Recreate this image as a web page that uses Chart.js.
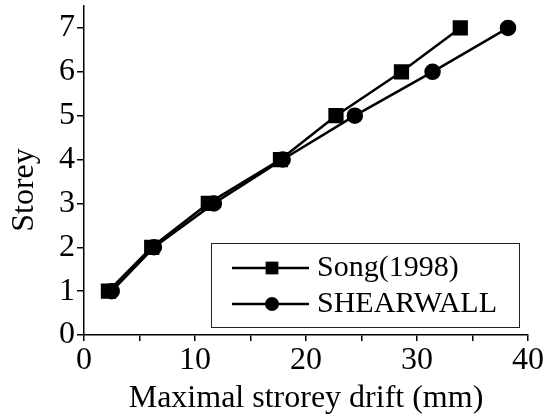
<!DOCTYPE html>
<html>
<head>
<meta charset="utf-8">
<script src="https://cdn.jsdelivr.net/npm/chart.js@4.4.1/dist/chart.umd.min.js"></script>
<style>
  html, body { margin: 0; padding: 0; background: #fff; }
  #wrap { width: 549px; height: 418px; }
</style>
</head>
<body>
<div id="wrap"><canvas id="driftChart" width="549" height="418"></canvas></div>
<script>
// storey drift, measured vs SHEARWALL model
var storeys = [1, 2, 3, 4, 5, 6, 7];
var songDrift = [2.2, 6.1, 11.2, 17.7, 22.7, 28.6, 33.9];
var shearwallDrift = [2.5, 6.3, 11.7, 17.9, 24.4, 31.4, 38.2];
var seriesNames = ['Song(1998)', 'SHEARWALL'];

var serif = "'Liberation Serif', 'Times New Roman', serif";

function toPoints(xs) {
  return xs.map(function (x, i) { return { x: x, y: storeys[i] }; });
}

// legend drawn as a framed box with a line through each marker
var lineLegend = {
  id: 'lineLegend',
  afterDraw: function (chart) {
    var ctx = chart.ctx;
    var box = { x: 211, y: 243, w: 308, h: 84 };
    ctx.save();
    ctx.strokeStyle = '#222';
    ctx.lineWidth = 1;
    ctx.strokeRect(box.x + 0.5, box.y + 0.5, box.w, box.h);
    chart.data.datasets.forEach(function (ds, i) {
      var y = box.y + 25 + i * 36;
      ctx.strokeStyle = '#000';
      ctx.lineWidth = 2.5;
      ctx.beginPath();
      ctx.moveTo(box.x + 21, y);
      ctx.lineTo(box.x + 98, y);
      ctx.stroke();
      Chart.helpers.drawPoint(ctx, {
        pointStyle: ds.pointStyle,
        radius: ds.pointRadius,
        rotation: 0,
        borderWidth: 0
      }, box.x + 61, y);
      ctx.fillStyle = '#000';
      ctx.font = '30px ' + serif;
      ctx.textBaseline = 'middle';
      ctx.fillText(ds.label, box.x + 106, y);
    });
    ctx.restore();
  }
};

// rotated y title, sitting a little below the middle of the axis
var yTitle = {
  id: 'yTitle',
  afterDraw: function (chart) {
    var ctx = chart.ctx;
    ctx.save();
    ctx.translate(25, 190);
    ctx.rotate(-Math.PI / 2);
    ctx.fillStyle = '#000';
    ctx.font = '32px ' + serif;
    ctx.textAlign = 'center';
    ctx.textBaseline = 'middle';
    ctx.fillText('Storey', 0, 0);
    ctx.restore();
  }
};

var ctx = document.getElementById('driftChart').getContext('2d');
var driftChart = new Chart(ctx, {
  type: 'line',
  plugins: [lineLegend, yTitle],
  data: {
    datasets: [{
      label: seriesNames[0],
      data: toPoints(songDrift),
      borderColor: '#000',
      backgroundColor: '#000',
      borderWidth: 2.5,
      pointStyle: 'rect',
      pointRadius: 9,
      pointHoverRadius: 9,
      tension: 0,
      clip: false
    }, {
      label: seriesNames[1],
      data: toPoints(shearwallDrift),
      borderColor: '#000',
      backgroundColor: '#000',
      borderWidth: 2.5,
      pointStyle: 'circle',
      pointRadius: 7,
      pointHoverRadius: 7,
      tension: 0,
      clip: false
    }]
  },
  options: {
    responsive: false,
    animation: false,
    layout: { autoPadding: false, padding: { top: 6, right: 21, left: 0, bottom: 0 } },
    plugins: {
      legend: { display: false },
      tooltip: { enabled: false }
    },
    scales: {
      x: {
        type: 'linear',
        min: 0,
        max: 40,
        border: { color: '#000', width: 1.5 },
        grid: { drawOnChartArea: false, color: '#000', tickLength: 6, lineWidth: 1.5 },
        ticks: {
          stepSize: 5,
          color: '#000',
          padding: 0,
          maxRotation: 0,
          font: { family: serif, size: 32 },
          callback: function (v) { return v % 10 === 0 ? v : ''; }
        },
        title: {
          display: true,
          text: 'Maximal strorey drift (mm)',
          color: '#000',
          padding: { top: 0, bottom: 0 },
          font: { family: serif, size: 32 }
        },
        afterFit: function (scale) { scale.height = 83; }
      },
      y: {
        min: 0,
        max: 7.5,
        border: { color: '#000', width: 1.5 },
        grid: { drawOnChartArea: false, color: '#000', tickLength: 7, lineWidth: 1.5 },
        ticks: {
          stepSize: 0.5,
          color: '#000',
          padding: 2,
          font: { family: serif, size: 32 },
          callback: function (v) { return Number.isInteger(v) ? v : ''; }
        },
        afterFit: function (scale) {
          scale.width = 84;
          scale.paddingTop = 0;
          scale.paddingBottom = 0;
        }
      }
    }
  }
});
</script>
</body>
</html>
